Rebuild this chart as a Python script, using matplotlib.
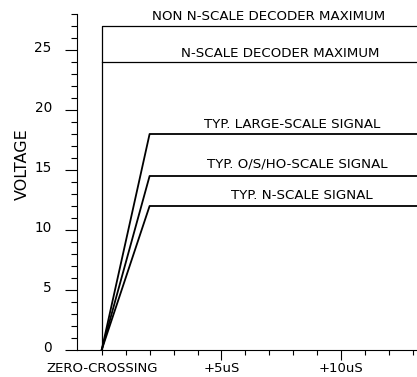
import matplotlib
matplotlib.use("Agg")
import matplotlib.pyplot as plt
from matplotlib.transforms import ScaledTranslation

# values (volts / microseconds)
non_n_max = 27.0
n_max = 24.0
ramp_end = 2.0
x_end = 14.0
signal_levels = [18.0, 14.5, 12.0]
signal_names = ["TYP. LARGE-SCALE SIGNAL", "TYP. O/S/HO-SCALE SIGNAL", "TYP. N-SCALE SIGNAL"]
signal_label_x = [7.95, 8.16, 8.37]
signal_label_y = [18.47, 15.2, 12.56]
max_names = ["NON N-SCALE DECODER MAXIMUM", "N-SCALE DECODER MAXIMUM"]
max_label_x = [6.95, 7.47]
max_label_y = [27.5, 24.42]
x_major = [0, 5, 10]
x_major_labels = ["ZERO-CROSSING", "+5uS", "+10uS"]
x_minor = [1, 2, 3, 4, 6, 7, 8, 9, 11, 12, 13]
y_major = [0, 5, 10, 15, 20, 25]

plt.rcParams["font.family"] = "DejaVu Sans"

fig = plt.figure(figsize=(4.17, 3.77), dpi=100)
ax = fig.add_axes([77 / 417, 27 / 377, 340 / 417, 336 / 377])

# decoder maximum lines
ax.plot([0, 0, x_end], [0, non_n_max, non_n_max], color="black", lw=0.9)
ax.plot([0, x_end], [n_max, n_max], color="black", lw=0.9)

# signals
for v in signal_levels:
    ax.plot([0, ramp_end, x_end], [0, v, v], color="black", lw=1.3)

for name, x, y in zip(max_names, max_label_x, max_label_y):
    ax.text(x, y, name, ha="center", va="baseline", fontsize=9.6)
for name, x, y in zip(signal_names, signal_label_x, signal_label_y):
    ax.text(x, y, name, ha="center", va="baseline", fontsize=9.6)

ax.set_xlim(-1.03, 13.16)
ax.set_ylim(0, 28)

ax.spines["top"].set_visible(False)
ax.spines["right"].set_visible(False)
ax.spines["left"].set_linewidth(0.8)
ax.spines["bottom"].set_linewidth(0.8)

ax.set_xticks(x_major)
ax.set_xticklabels(x_major_labels, fontsize=9.5)
ax.set_xticks(x_minor, minor=True)
ax.set_yticks(y_major)
ax.set_yticklabels([str(v) for v in y_major], fontsize=9.8)
ax.set_yticks(range(0, 29), minor=True)

ax.tick_params(axis="x", which="major", length=7.2, width=0.8, pad=1.5)
ax.tick_params(axis="x", which="minor", length=3.6, width=0.8)
ax.tick_params(axis="y", which="major", length=8.6, width=0.8, pad=9.5)
ax.tick_params(axis="y", which="minor", length=4.3, width=0.8)

# zero-crossing tick is short in the original
ax.xaxis.get_major_ticks()[0].tick1line.set_markersize(3.6)

# y tick labels sit a little above their ticks
shift = ScaledTranslation(0, 4 / 100, fig.dpi_scale_trans)
for lab in ax.get_yticklabels():
    lab.set_transform(lab.get_transform() + shift)

fig.text(22 / 417, 1 - 164.5 / 377, "VOLTAGE", rotation=90,
         ha="center", va="center", fontsize=11.5)

fig.savefig("out.png", dpi=100)
